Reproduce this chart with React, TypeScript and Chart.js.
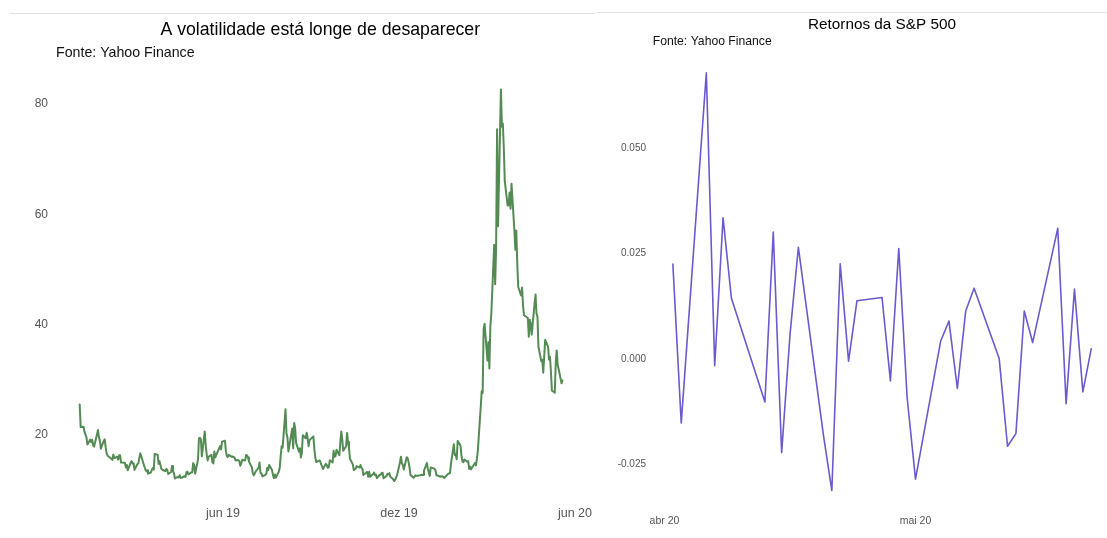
import { useEffect, useRef } from "react";
import { Chart, registerables } from "chart.js";

Chart.register(...registerables);

// ---------- Data: VIX daily close (Yahoo Finance, ^VIX) ----------
const vixMonths = [
  "2019-01", "2019-02", "2019-03", "2019-04", "2019-05", "2019-06", "2019-07", "2019-08",
  "2019-09", "2019-10", "2019-11", "2019-12", "2020-01", "2020-02", "2020-03", "2020-04", "2020-05",
];
const vixDays = [
  [3, 4, 7, 8, 9, 10, 11, 14, 15, 16, 17, 18, 22, 23, 24, 25, 28, 29, 30, 31],
  [1, 4, 5, 6, 7, 8, 11, 12, 13, 14, 15, 19, 20, 21, 22, 25, 26, 27, 28],
  [1, 4, 5, 6, 7, 8, 11, 12, 13, 14, 15, 18, 19, 20, 21, 22, 25, 26, 27, 28, 29],
  [1, 2, 3, 4, 5, 8, 9, 10, 11, 12, 15, 16, 17, 18, 22, 23, 24, 25, 26, 29, 30],
  [1, 2, 3, 6, 7, 8, 9, 10, 13, 14, 15, 16, 17, 20, 21, 22, 23, 24, 28, 29, 30, 31],
  [3, 4, 5, 6, 7, 10, 11, 12, 13, 14, 17, 18, 19, 20, 21, 24, 25, 26, 27, 28],
  [1, 2, 3, 5, 8, 9, 10, 11, 12, 15, 16, 17, 18, 19, 22, 23, 24, 25, 26, 29, 30, 31],
  [1, 2, 5, 6, 7, 8, 9, 12, 13, 14, 15, 16, 19, 20, 21, 22, 23, 26, 27, 28, 29, 30],
  [3, 4, 5, 6, 9, 10, 11, 12, 13, 16, 17, 18, 19, 20, 23, 24, 25, 26, 27, 30],
  [1, 2, 3, 4, 7, 8, 9, 10, 11, 14, 15, 16, 17, 18, 21, 22, 23, 24, 25, 28, 29, 30, 31],
  [1, 4, 5, 6, 7, 8, 11, 12, 13, 14, 15, 18, 19, 20, 21, 22, 25, 26, 27, 29],
  [2, 3, 4, 5, 6, 9, 10, 11, 12, 13, 16, 17, 18, 19, 20, 23, 24, 26, 27, 30, 31],
  [2, 3, 6, 7, 8, 9, 10, 13, 14, 15, 16, 17, 21, 22, 23, 24, 27, 28, 29, 30, 31],
  [3, 4, 5, 6, 7, 10, 11, 12, 13, 14, 18, 19, 20, 21, 24, 25, 26, 27, 28],
  [2, 3, 4, 5, 6, 9, 10, 11, 12, 13, 16, 17, 18, 19, 20, 23, 24, 25, 26, 27, 30, 31],
  [1, 2, 3, 6, 7, 8, 9, 13, 14, 15, 16, 17, 20, 21, 22, 23, 24, 27, 28, 29, 30],
  [1, 4, 5, 6, 7, 8, 11, 12, 13, 14, 15, 18, 19],
];
const vixClose = [
  // 2019-01
  25.45, 21.38, 21.4, 20.47, 19.98, 19.5, 18.19, 19.07, 18.6, 19.04, 18.06, 17.8, 20.8, 19.52, 18.89, 17.42, 18.87, 19.13, 17.66, 16.57,
  // 2019-02
  16.14, 15.73, 15.57, 15.38, 16.37, 15.72, 15.97, 15.43, 16.22, 16.22, 14.91, 14.88, 14.02, 14.46, 13.51, 14.85, 15.17, 14.7, 14.78,
  // 2019-03
  13.57, 14.63, 14.74, 15.74, 16.59, 16.05, 14.33, 13.77, 13.41, 13.5, 12.88, 13.1, 13.56, 13.91, 13.63, 16.48, 16.33, 14.68, 15.15, 14.43, 13.71,
  // 2019-04
  13.4, 13.36, 13.74, 13.58, 12.82, 13.18, 14.28, 13.3, 13.02, 12.01, 12.32, 12.18, 12.6, 12.09, 12.42, 12.28, 13.14, 13.25, 12.73, 13.11, 13.12,
  // 2019-05
  14.8, 14.42, 12.87, 15.44, 19.32, 19.4, 19.1, 16.04, 20.55, 18.06, 16.44, 15.29, 15.96, 16.31, 14.95, 14.75, 16.92, 15.85, 17.5, 17.9, 17.3, 18.71,
  // 2019-06
  18.86, 16.97, 16.09, 15.93, 16.3, 15.94, 15.99, 15.91, 15.82, 15.28, 15.35, 15.15, 14.33, 14.75, 15.4, 15.26, 16.28, 16.21, 15.82, 15.08,
  // 2019-07
  14.06, 12.93, 12.57, 13.28, 13.96, 14.91, 13.03, 12.93, 12.39, 12.68, 12.86, 13.97, 13.53, 14.45, 13.53, 12.61, 12.07, 12.74, 12.16, 13.24, 13.94, 16.12,
  // 2019-08
  17.87, 17.61, 24.59, 20.17, 19.49, 16.91, 17.97, 21.09, 17.52, 22.1, 21.18, 18.47, 16.88, 17.5, 15.8, 16.68, 19.87, 19.32, 20.31, 19.35, 17.88, 18.98,
  // 2019-09
  19.66, 17.33, 15.82, 15.0, 15.27, 15.2, 14.61, 14.22, 13.74, 14.67, 14.44, 13.95, 14.05, 15.32, 14.91, 17.05, 15.96, 16.07, 17.22, 16.24,
  // 2019-10
  18.56, 20.56, 19.12, 17.04, 17.86, 20.28, 18.64, 17.57, 15.58, 14.57, 13.54, 13.68, 13.79, 14.25, 14.0, 14.46, 14.01, 13.71, 12.65, 13.11, 13.2, 12.33, 13.22,
  // 2019-11
  12.3, 12.83, 13.1, 12.62, 12.73, 12.07, 12.69, 12.68, 13.0, 13.05, 12.05, 12.46, 12.86, 12.78, 12.98, 12.34, 11.87, 11.54, 11.75, 12.62,
  // 2019-12
  14.91, 15.96, 14.8, 14.52, 13.62, 15.86, 15.68, 14.99, 13.94, 12.63, 12.14, 12.29, 12.58, 12.5, 12.51, 12.61, 12.67, 12.65, 13.43, 14.82, 13.78,
  // 2020-01
  12.47, 14.02, 13.85, 13.79, 13.45, 12.54, 12.56, 12.32, 12.39, 12.42, 12.32, 12.1, 12.85, 12.91, 12.98, 14.56, 18.23, 16.28, 16.39, 15.49, 18.84,
  // 2020-02
  17.97, 16.05, 15.15, 14.96, 15.47, 15.04, 15.18, 13.74, 14.15, 13.68, 14.83, 14.38, 15.56, 17.08, 25.03, 27.85, 27.56, 39.16, 40.11,
  // 2020-03
  33.42, 36.82, 31.99, 39.62, 41.94, 54.46, 47.3, 53.9, 75.47, 57.83, 82.69, 75.91, 76.45, 72.0, 66.04, 61.59, 61.67, 63.95, 61.0, 65.54, 57.08, 53.54,
  // 2020-04
  57.06, 50.91, 46.8, 45.24, 46.7, 43.35, 41.67, 41.17, 37.76, 40.84, 40.11, 38.15, 43.83, 45.41, 41.98, 41.38, 35.93, 33.29, 33.57, 31.23, 34.15,
  // 2020-05
  37.19, 35.97, 33.61, 34.12, 31.44, 27.98, 27.57, 33.04, 35.28, 32.61, 31.89, 29.3, 29.8,
];

// ---------- Data: S&P 500 daily log returns ----------
const spxDates = [
  "2020-04-02", "2020-04-03", "2020-04-06", "2020-04-07", "2020-04-08", "2020-04-09",
  "2020-04-13", "2020-04-14", "2020-04-15", "2020-04-16", "2020-04-17",
  "2020-04-20", "2020-04-21", "2020-04-22", "2020-04-23", "2020-04-24",
  "2020-04-27", "2020-04-28", "2020-04-29", "2020-04-30", "2020-05-01",
  "2020-05-04", "2020-05-05", "2020-05-06", "2020-05-07", "2020-05-08",
  "2020-05-11", "2020-05-12", "2020-05-13", "2020-05-14", "2020-05-15",
  "2020-05-18", "2020-05-19", "2020-05-20", "2020-05-21", "2020-05-22",
];
const spxLogReturns = [
  0.0225, -0.0152, 0.0679, -0.0016, 0.0335, 0.0144,
  -0.0102, 0.0301, -0.0222, 0.0058, 0.0265,
  -0.0181, -0.0312, 0.0226, -0.0005, 0.0138,
  0.0146, -0.0052, 0.0262, -0.0092, -0.0285,
  0.0042, 0.009, -0.007, 0.0114, 0.0168,
  0.0001, -0.0207, -0.0177, 0.0114, 0.0039,
  0.031, -0.0106, 0.0166, -0.0078, 0.0024,
];

// ---------- Ticks ----------
const volXTickDates = ["2019-06-01", "2019-12-01", "2020-06-01"];
const volXTickLabels = ["jun 19", "dez 19", "jun 20"];
const volYTicks = [20, 40, 60, 80];
const retXTickDates = ["2020-04-01", "2020-05-01"];
const retXTickLabels = ["abr 20", "mai 20"];
const retYTicks = [-0.025, 0, 0.025, 0.05];

const FONT = "'Liberation Sans', Arial, Helvetica, sans-serif";
const TICK_COLOR = "#555555";

const dayNum = (iso: string) => {
  const [y, m, d] = iso.split("-").map(Number);
  return Date.UTC(y, m - 1, d) / 86400000;
};

const vixDates: string[] = vixMonths.flatMap((m, i) =>
  vixDays[i].map((d) => `${m}-${String(d).padStart(2, "0")}`)
);

function volConfig(): any {
  const anchor = dayNum("2019-06-01");
  return {
    type: "line",
    data: {
      datasets: [
        {
          data: vixDates.map((d, i) => ({ x: dayNum(d), y: vixClose[i] })),
          borderColor: "#548B54",
          borderWidth: 2,
          pointRadius: 0,
          tension: 0,
          fill: false,
          borderJoinStyle: "round",
          borderCapStyle: "round",
        },
      ],
    },
    options: {
      animation: false,
      responsive: false,
      events: [],
      layout: { padding: { left: 0, right: 10.5, top: 0, bottom: 0 } },
      plugins: {
        legend: { display: false },
        tooltip: { enabled: false },
        title: {
          display: true,
          fullSize: false,
          text: "A volatilidade está longe de desaparecer",
          align: "center",
          color: "#000000",
          font: { family: FONT, size: 17.7, weight: "normal" },
          padding: { top: 19.25, bottom: 4.37 },
        },
        subtitle: {
          display: true,
          fullSize: false,
          text: "Fonte: Yahoo Finance",
          align: "start",
          color: "#111111",
          font: { family: FONT, size: 14.2, weight: "normal" },
          padding: { top: 0, bottom: 8.1 },
        },
      },
      scales: {
        x: {
          type: "linear",
          min: anchor - 173.65,
          max: anchor + 375.9,
          grid: { display: false, drawTicks: false },
          border: { display: false },
          afterBuildTicks: (s: any) => {
            s.ticks = volXTickDates.map((d) => ({ value: dayNum(d) }));
          },
          afterFit: (s: any) => {
            s.height = 43;
            s.paddingLeft = 0;
            s.paddingRight = 0;
          },
          ticks: {
            autoSkip: false,
            maxRotation: 0,
            minRotation: 0,
            padding: 11.5,
            color: TICK_COLOR,
            font: { family: FONT, size: 12.5 },
            callback: (_v: any, i: number) => volXTickLabels[i],
          },
        },
        y: {
          type: "linear",
          min: 9.01,
          max: 86.21,
          grid: { display: false, drawTicks: false },
          border: { display: false },
          afterBuildTicks: (s: any) => {
            s.ticks = volYTicks.map((v) => ({ value: v }));
          },
          afterFit: (s: any) => {
            s.width = 56;
            s.paddingTop = 0;
            s.paddingBottom = 0;
          },
          ticks: {
            padding: 8,
            color: TICK_COLOR,
            font: { family: FONT, size: 12 },
            callback: (v: any) => String(v),
          },
        },
      },
    },
  };
}

function retConfig(): any {
  const anchor = dayNum("2020-04-01");
  return {
    type: "line",
    data: {
      datasets: [
        {
          data: spxDates.map((d, i) => ({ x: dayNum(d), y: spxLogReturns[i] })),
          borderColor: "#6A5ACD",
          borderWidth: 1.6,
          pointRadius: 0,
          tension: 0,
          fill: false,
          borderJoinStyle: "round",
          borderCapStyle: "round",
        },
      ],
    },
    options: {
      animation: false,
      responsive: false,
      events: [],
      layout: { padding: { left: 0, right: 8.7, top: 0, bottom: 0 } },
      plugins: {
        legend: { display: false },
        tooltip: { enabled: false },
        title: {
          display: true,
          fullSize: false,
          text: "Retornos da S&P 500",
          align: "center",
          color: "#000000",
          font: { family: FONT, size: 15.3, weight: "normal" },
          padding: { top: 15.52, bottom: 0.27 },
        },
        subtitle: {
          display: true,
          fullSize: false,
          text: "Fonte: Yahoo Finance",
          align: "start",
          color: "#111111",
          font: { family: FONT, size: 12.2, weight: "normal" },
          padding: { top: 0, bottom: 6.21 },
        },
      },
      scales: {
        x: {
          type: "linear",
          min: anchor - 1.41,
          max: anchor + 53.4,
          grid: { display: false, drawTicks: false },
          border: { display: false },
          afterBuildTicks: (s: any) => {
            s.ticks = retXTickDates.map((d) => ({ value: dayNum(d) }));
          },
          afterFit: (s: any) => {
            s.height = 38;
            s.paddingLeft = 0;
            s.paddingRight = 0;
          },
          ticks: {
            autoSkip: false,
            maxRotation: 0,
            minRotation: 0,
            padding: 14.5,
            color: TICK_COLOR,
            font: { family: FONT, size: 10.5 },
            callback: (_v: any, i: number) => retXTickLabels[i],
          },
        },
        y: {
          type: "linear",
          min: -0.03345,
          max: 0.07212,
          grid: { display: false, drawTicks: false },
          border: { display: false },
          afterBuildTicks: (s: any) => {
            s.ticks = retYTicks.map((v) => ({ value: v }));
          },
          afterFit: (s: any) => {
            s.width = 57.7;
            s.paddingTop = 0;
            s.paddingBottom = 0;
          },
          ticks: {
            padding: 6.7,
            color: TICK_COLOR,
            font: { family: FONT, size: 10 },
            callback: (v: any) => Number(v).toFixed(3),
          },
        },
      },
    },
  };
}

export default function App() {
  const leftRef = useRef<HTMLCanvasElement | null>(null);
  const rightRef = useRef<HTMLCanvasElement | null>(null);

  useEffect(() => {
    const charts: Chart[] = [];
    if (leftRef.current) charts.push(new Chart(leftRef.current, volConfig()));
    if (rightRef.current) charts.push(new Chart(rightRef.current, retConfig()));
    return () => charts.forEach((c) => c.destroy());
  }, []);

  return (
    <div
      style={{
        position: "fixed",
        left: 0,
        top: 0,
        width: 1107,
        height: 538,
        overflow: "hidden",
        background: "#ffffff",
      }}
    >
      <div style={{ position: "absolute", left: 10, top: 13, width: 585, height: 1, background: "#e0e0e0" }} />
      <div style={{ position: "absolute", left: 596, top: 12, width: 511, height: 1, background: "#e0e0e0" }} />
      <canvas
        ref={leftRef}
        width={595}
        height={538}
        style={{ position: "absolute", left: 0, top: 0, width: 595, height: 538, display: "block" }}
      />
      <canvas
        ref={rightRef}
        width={525}
        height={538}
        style={{ position: "absolute", left: 595, top: 0, width: 525, height: 538, display: "block" }}
      />
    </div>
  );
}
